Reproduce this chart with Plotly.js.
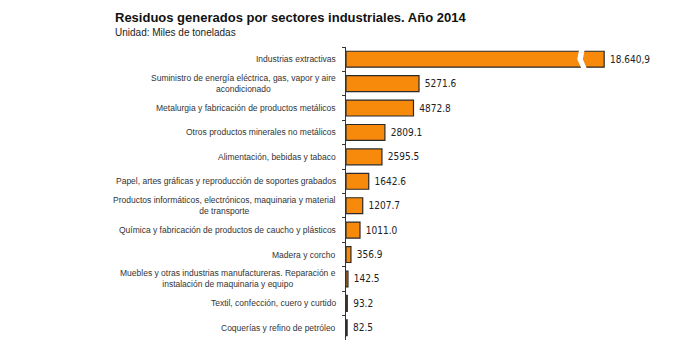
<!DOCTYPE html>
<html>
<head>
<meta charset="utf-8">
<script src="https://cdn.plot.ly/plotly-3.0.1.min.js"></script>
<style>html,body{margin:0;padding:0;background:#fff;}#chart{width:700px;height:350px;}</style>
</head>
<body>
<div id="chart"></div>
<script>
const categories = [
  "Industrias extractivas",
  "Suministro de energía eléctrica, gas, vapor y aire<br>acondicionado",
  "Metalurgia y fabricación de productos metálicos",
  "Otros productos minerales no metálicos",
  "Alimentación, bebidas y tabaco",
  "Papel, artes gráficas y reproducción de soportes grabados",
  "Productos informáticos, electrónicos, maquinaria y material<br>de transporte",
  "Química y fabricación de productos de caucho y plásticos",
  "Madera y corcho",
  "Muebles y otras industrias manufactureras. Reparación e<br>instalación de maquinaria y equipo",
  "Textil, confección, cuero y curtido",
  "Coquerías y refino de petróleo"
];
const values = [18640.9, 5271.6, 4872.8, 2809.1, 2595.5, 1642.6, 1207.7, 1011.0, 356.9, 142.5, 93.2, 82.5];
const valueLabels = ["18.640,9", "5271.6", "4872.8", "2809.1", "2595.5", "1642.6", "1207.7", "1011.0", "356.9", "142.5", "93.2", "82.5"];
const breakAt = 17100;

const trace = {
  type: "bar",
  orientation: "h",
  y: categories,
  x: values,
  text: valueLabels,
  texttemplate: "\u00a0%{text}",
  textposition: "outside",
  cliponaxis: false,
  textfont: {family: "Liberation Sans Narrow, DejaVu Sans Condensed, sans-serif", size: 10, color: "#222"},
  marker: {color: "#F88A0B", line: {color: "#2a2a2a", width: 1.2}},
  hoverinfo: "none"
};

const labelAnnotations = categories.map(c => ({
  text: c, xref: "paper", yref: "y", x: 0, y: c, xshift: -8,
  xanchor: "right", yanchor: "middle", align: "center", showarrow: false,
  font: {family: "Liberation Sans, Arial, sans-serif", size: 8.5, color: "#333"}
}));

const layout = {
  width: 700, height: 350,
  margin: {l: 346, r: 50, t: 47, b: 10},
  paper_bgcolor: "#fff", plot_bgcolor: "#fff",
  bargap: 0.35,
  showlegend: false,
  xaxis: {range: [0, 21950], showgrid: false, zeroline: false, showticklabels: false, ticks: "", showline: false},
  yaxis: {
    autorange: "reversed", showgrid: false, zeroline: false,
    showline: true, linecolor: "#333", linewidth: 1,
    ticks: "outside", tickson: "boundaries", ticklen: 3, tickcolor: "#333",
    showticklabels: false
  },
  shapes: [{
    type: "path", xref: "x", yref: "y",
    path: `M ${breakAt-250},-0.45 L ${breakAt+150},-0.45 L ${breakAt},0 L ${breakAt+350},0.45 L ${breakAt-50},0.45 L ${breakAt-400},0 Z`,
    fillcolor: "#fff", line: {width: 0}, layer: "above"
  }],
  annotations: [
    {text: "<b>Residuos generados por sectores industriales. Año 2014</b>", xref: "paper", yref: "paper",
     x: (113-346)/304, y: 1 + (47-17)/293, xanchor: "left", yanchor: "middle", showarrow: false,
     font: {family: "Liberation Sans, Arial, sans-serif", size: 13, color: "#111"}},
    {text: "Unidad: Miles de toneladas", xref: "paper", yref: "paper",
     x: (113-346)/304, y: 1 + (47-33)/293, xanchor: "left", yanchor: "middle", showarrow: false,
     font: {family: "Liberation Sans, Arial, sans-serif", size: 10, color: "#222"}}
  ].concat(labelAnnotations)
};

Plotly.newPlot("chart", [trace], layout, {displayModeBar: false, staticPlot: true});
</script>
</body>
</html>
